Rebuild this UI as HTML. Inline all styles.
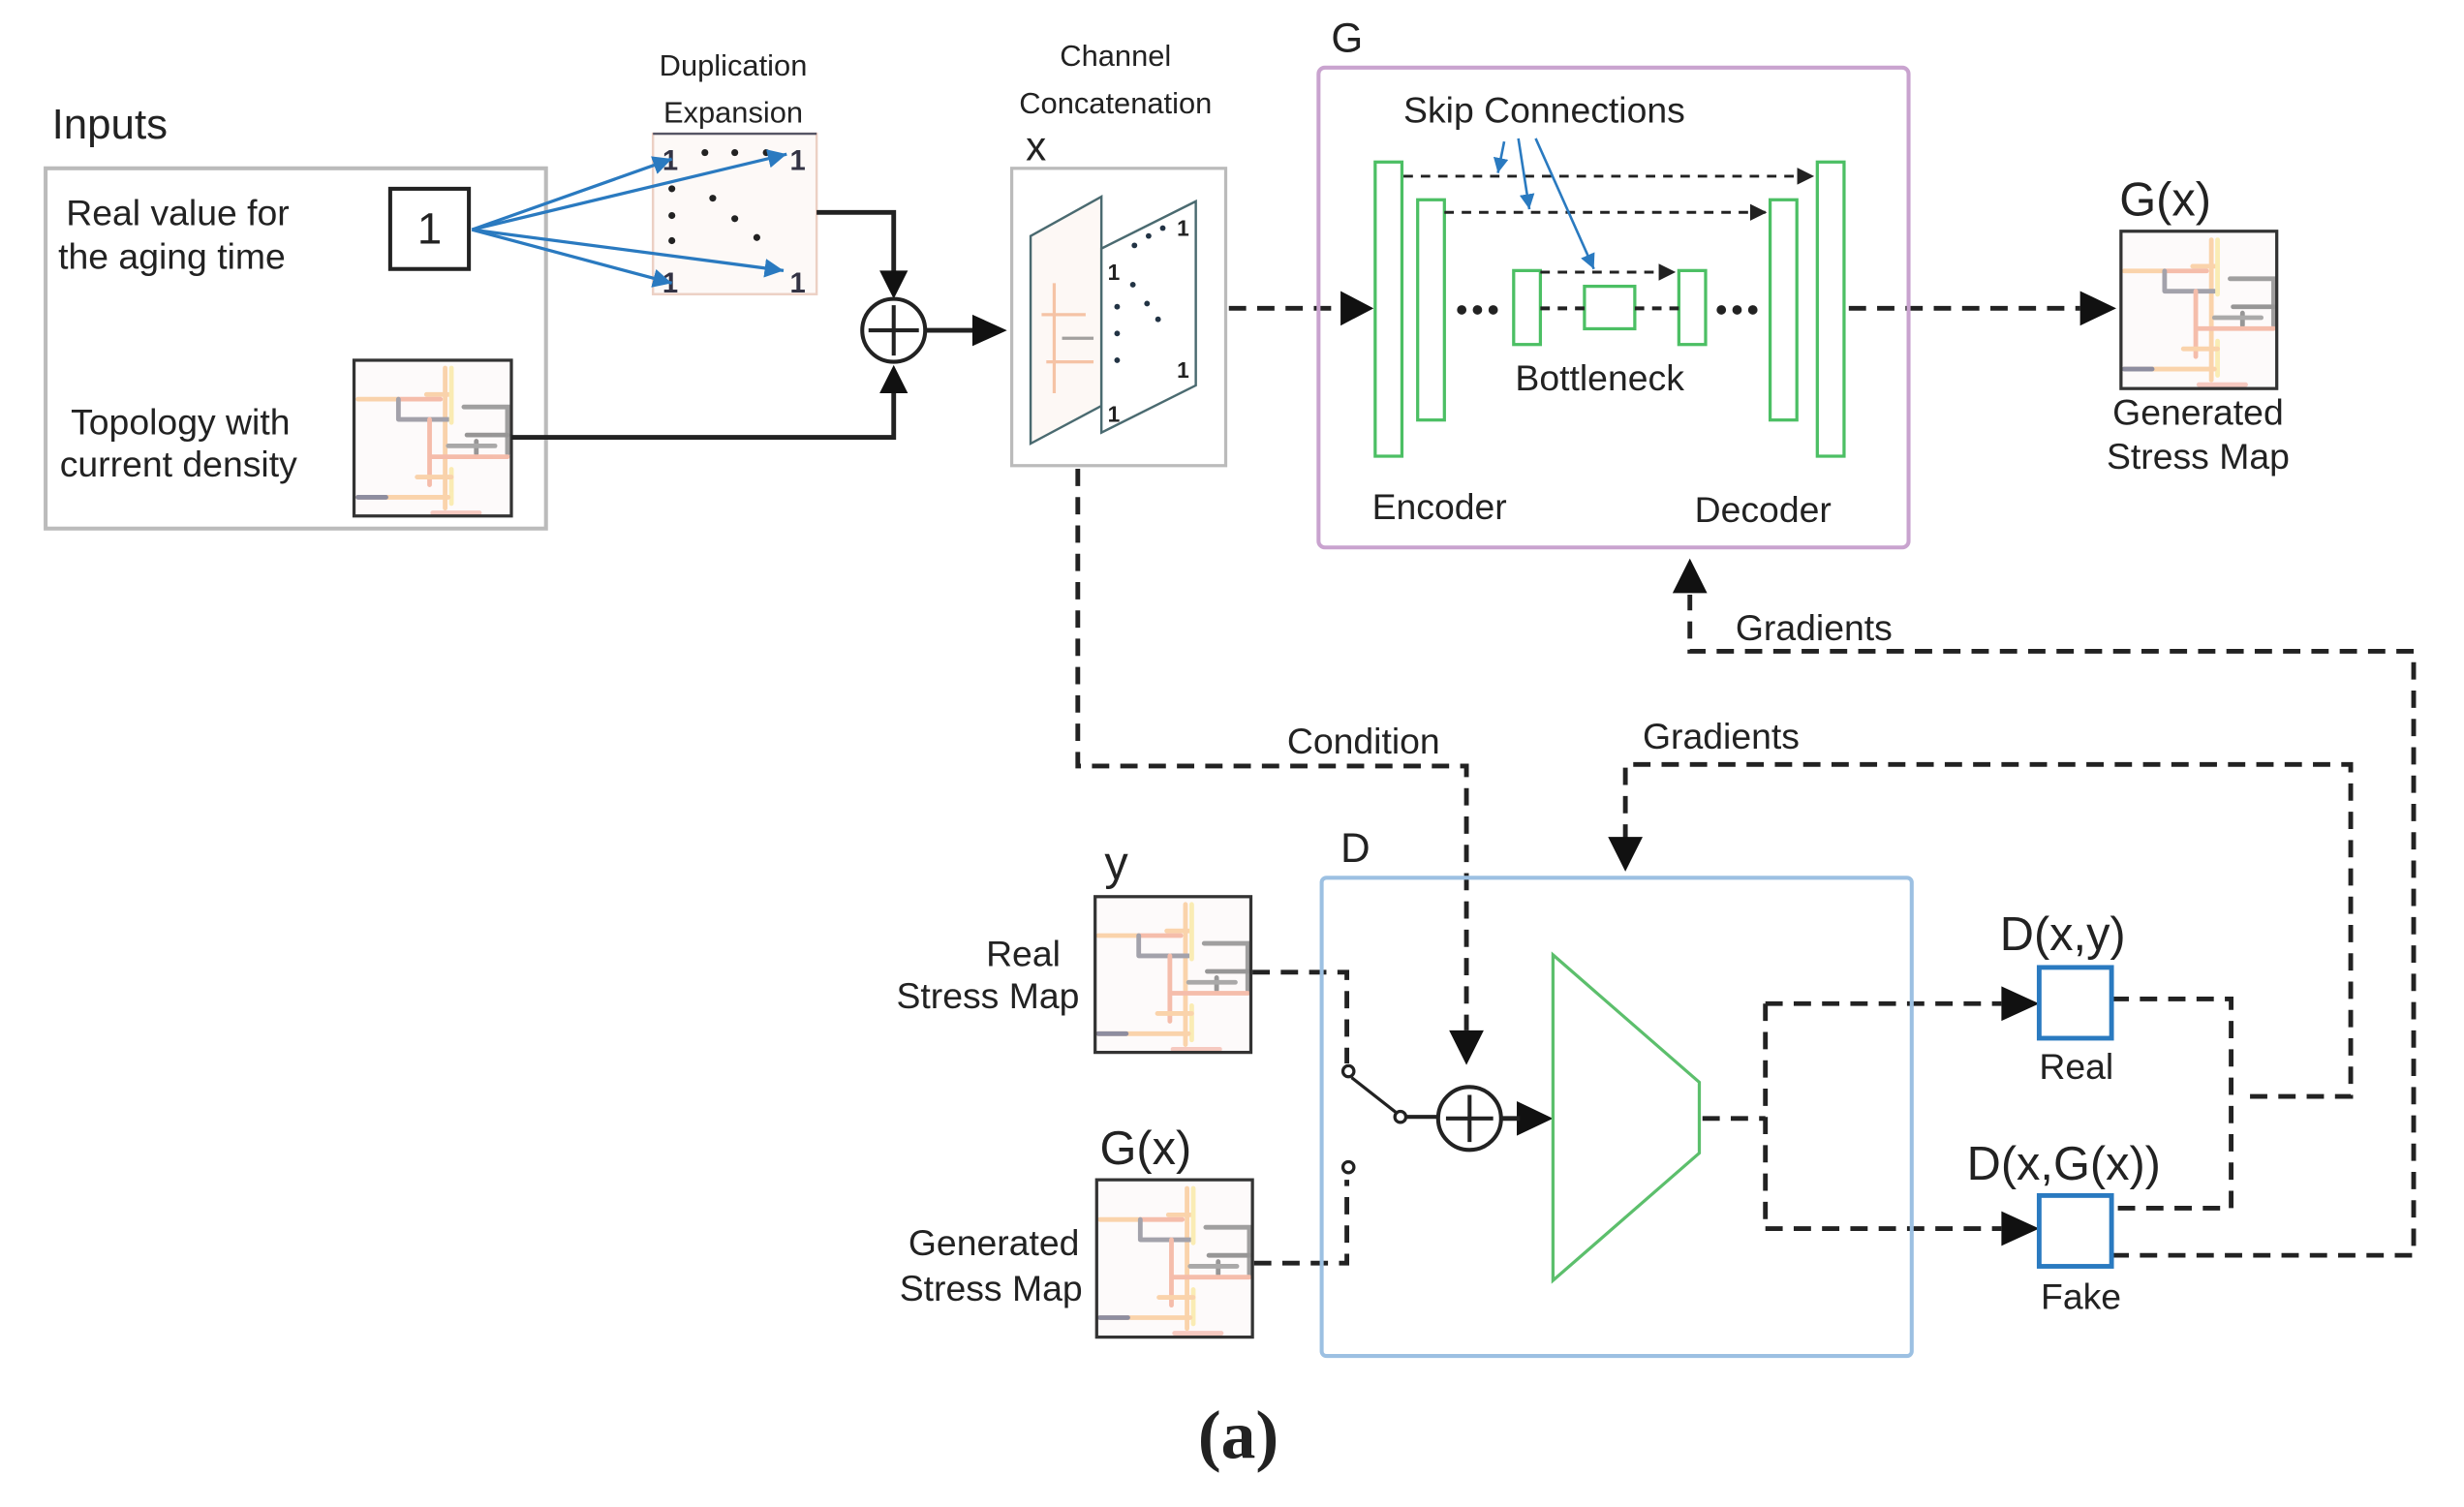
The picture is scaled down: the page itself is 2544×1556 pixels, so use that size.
<!DOCTYPE html>
<html><head><meta charset="utf-8"><style>
html,body{margin:0;padding:0;background:#fff;}
svg{display:block;}
text{font-family:"Liberation Sans",sans-serif;fill:#222;}
</style></head><body>
<svg width="2544" height="1556" viewBox="0 0 1566 958" preserveAspectRatio="none" xmlns="http://www.w3.org/2000/svg">
<defs>
<symbol id="map" viewBox="0 0 100 100">
<rect x="0" y="0" width="100" height="100" fill="#fdfafa"/>
<g fill="none" stroke-width="3" stroke-linecap="round" opacity="0.55">
<path d="M2 25 H28 M46 22 H60 M58 5 V95" stroke="#f7b26b"/>
<path d="M28 25 H55" stroke="#ef8a6a"/>
<path d="M28 25 V38 M28 38 H60" stroke="#5a5a6a"/>
<path d="M70 30 H98 V60" stroke="#555"/>
<path d="M72 48 H98 M78 52 V60" stroke="#444"/>
<path d="M48 38 V80 M48 62 H98" stroke="#ef8a6a"/>
<path d="M62 5 V40 M62 70 V92" stroke="#f8e07a"/>
<path d="M40 75 H62 M2 88 H60" stroke="#f7b26b"/>
<path d="M2 88 H20" stroke="#335"/>
<path d="M60 55 H90" stroke="#666"/>
<path d="M50 98 H80" stroke="#f1a090"/>
</g>
</symbol>
<marker id="ah" viewBox="0 0 10 10" refX="10" refY="5" markerWidth="6" markerHeight="6" orient="auto"><path d="M0 0 L10 5 L0 10z" fill="#2a7ac0"/></marker>
<marker id="sh" viewBox="0 0 10 10" refX="10" refY="5" markerWidth="6" markerHeight="6" orient="auto"><path d="M0 0 L10 5 L0 10z" fill="#222"/></marker>
</defs>

<!-- Inputs -->
<text x="33" y="88" font-size="27">Inputs</text>
<rect x="29" y="107" width="318" height="229" fill="none" stroke="#bbb" stroke-width="2.5"/>
<text x="42" y="143" font-size="23">Real value for</text>
<text x="37" y="171" font-size="23">the aging time</text>
<rect x="248" y="120" width="50" height="51" fill="none" stroke="#222" stroke-width="2.5"/>
<text x="273" y="155" font-size="28" text-anchor="middle">1</text>
<text x="45" y="276" font-size="23">Topology with</text>
<text x="38" y="303" font-size="23">current density</text>
<use href="#map" x="225" y="229" width="100" height="99"/>
<rect x="225" y="229" width="100" height="99" fill="none" stroke="#333" stroke-width="2"/>

<!-- Duplication -->
<text x="466" y="48" font-size="19" text-anchor="middle">Duplication</text>
<text x="466" y="78" font-size="19" text-anchor="middle">Expansion</text>
<rect x="415" y="85" width="104" height="102" fill="#fdf9f7" stroke="#ecd0c4" stroke-width="1.5"/>
<line x1="415" y1="85" x2="519" y2="85" stroke="#556" stroke-width="1.5"/>
<g font-size="18" font-weight="bold"><text x="421" y="108" style="fill:#334">1</text><text x="502" y="108" style="fill:#334">1</text><text x="421" y="186" style="fill:#334">1</text><text x="502" y="186" style="fill:#334">1</text></g>
<g fill="#222"><circle cx="448" cy="97" r="2.2"/><circle cx="467" cy="97" r="2.2"/><circle cx="487" cy="97" r="2.2"/><circle cx="427" cy="120" r="2.2"/><circle cx="427" cy="137" r="2.2"/><circle cx="427" cy="153" r="2.2"/><circle cx="453" cy="126" r="2.2"/><circle cx="467" cy="139" r="2.2"/><circle cx="481" cy="151" r="2.2"/></g>
<g stroke="#2a7ac0" stroke-width="2" fill="none" marker-end="url(#ah)">
<line x1="300" y1="146" x2="427" y2="101"/><line x1="300" y1="146" x2="500" y2="98"/>
<line x1="300" y1="146" x2="427" y2="180"/><line x1="300" y1="146" x2="498" y2="172"/>
</g>

<!-- solid connectors -->
<g stroke="#222" stroke-width="3" fill="none">
<path d="M519 135 H568 V176"/><path d="M325 278 H568 V244"/><path d="M589 210 H620"/>
</g>
<path d="M559 172 L577 172 L568 190z M559 250 L577 250 L568 232z M618 200 L640 210 L618 220z" fill="#111"/>
<circle cx="568" cy="210" r="20" fill="#fff" stroke="#222" stroke-width="2.5"/>
<path d="M552 210 H584 M568 194 V226" stroke="#222" stroke-width="2.5"/>

<!-- Channel concatenation -->
<text x="709" y="42" font-size="19" text-anchor="middle">Channel</text>
<text x="709" y="72" font-size="19" text-anchor="middle">Concatenation</text>
<text x="652" y="102" font-size="26">x</text>
<rect x="643" y="107" width="136" height="189" fill="#fff" stroke="#bbb" stroke-width="2"/>
<polygon points="655,150 700,125 700,258 655,282" fill="#fdf8f5" stroke="#4a6a70" stroke-width="1.5"/>
<path d="M662 200 H690 M670 180 V250 M665 230 H695" stroke="#f0a070" stroke-width="2" fill="none" opacity="0.6"/>
<path d="M675 215 H695" stroke="#666" stroke-width="2" opacity="0.6"/>
<polygon points="700,158 760,128 760,245 700,275" fill="#fff" stroke="#4a6a70" stroke-width="1.5"/>
<g font-size="14" font-weight="bold"><text x="704" y="178">1</text><text x="704" y="268">1</text><text x="748" y="150">1</text><text x="748" y="240">1</text></g>
<g fill="#234"><circle cx="721" cy="156" r="1.8"/><circle cx="730" cy="150" r="1.8"/><circle cx="739" cy="145" r="1.8"/><circle cx="720" cy="181" r="1.8"/><circle cx="729" cy="193" r="1.8"/><circle cx="736" cy="203" r="1.8"/><circle cx="710" cy="195" r="1.8"/><circle cx="710" cy="212" r="1.8"/><circle cx="710" cy="229" r="1.8"/></g>

<!-- dashed lines -->
<g stroke="#222" stroke-width="3" fill="none" stroke-dasharray="11,7">
<path d="M781 196 H852"/>
<path d="M1175 196 H1322"/>
<path d="M685 298 V487 H932 V655"/>
<path d="M1342 798 H1534 V414 H1074 V378"/>
<path d="M1430 697 H1494 V486 H1033 V533"/>
<path d="M1342 635 H1418 V768 H1342"/>
<path d="M796 618 H856 V676"/>
<path d="M797 803 H856 V750"/>
<path d="M1082 711 H1122 M1122 638 V781 M1122 638 H1272 M1122 781 H1272"/>
</g>
<path d="M852 185 L873 196 L852 207z M1322 185 L1345 196 L1322 207z M921 655 L943 655 L932 677z M1063 377 L1085 377 L1074 355z M1022 532 L1044 532 L1033 554z M1272 627 L1296 638 L1272 649z M1272 770 L1296 781 L1272 792z M964 700 L987 711 L964 722z" fill="#111"/>

<!-- G box -->
<text x="846" y="33" font-size="26">G</text>
<rect x="838" y="43" width="375" height="305" rx="4" fill="none" stroke="#c9a3cf" stroke-width="2.5"/>
<text x="892" y="78" font-size="23">Skip Connections</text>
<g fill="none" stroke="#4cbf64" stroke-width="2">
<rect x="874" y="103" width="17" height="187"/><rect x="901" y="127" width="17" height="140"/>
<rect x="962" y="172" width="17" height="47"/><rect x="1007" y="182" width="32" height="27"/>
<rect x="1067" y="172" width="17" height="47"/><rect x="1125" y="127" width="17" height="140"/>
<rect x="1155" y="103" width="17" height="187"/>
</g>
<g stroke="#222" stroke-width="1.8" fill="none" stroke-dasharray="6,5" marker-end="url(#sh)">
<path d="M892 112 H1153"/><path d="M918 135 H1123"/><path d="M979 173 H1065"/>
</g>
<path d="M979 196 H1007 M1039 196 H1067" stroke="#222" stroke-width="2.5" stroke-dasharray="6,5"/>
<g fill="#222"><circle cx="929" cy="197" r="3"/><circle cx="939" cy="197" r="3"/><circle cx="949" cy="197" r="3"/><circle cx="1094" cy="197" r="3"/><circle cx="1104" cy="197" r="3"/><circle cx="1114" cy="197" r="3"/></g>
<g stroke="#2a7ac0" stroke-width="1.6" fill="none" marker-end="url(#ah)">
<line x1="956" y1="90" x2="952" y2="110"/><line x1="965" y1="88" x2="972" y2="133"/><line x1="976" y1="88" x2="1013" y2="171"/>
</g>
<text x="963" y="248" font-size="23">Bottleneck</text>
<text x="872" y="330" font-size="23">Encoder</text>
<text x="1077" y="332" font-size="23">Decoder</text>

<!-- G(x) output -->
<text x="1347" y="137" font-size="30">G(x)</text>
<use href="#map" x="1348" y="147" width="99" height="100"/>
<rect x="1348" y="147" width="99" height="100" fill="none" stroke="#333" stroke-width="2"/>
<text x="1397" y="270" font-size="23" text-anchor="middle">Generated</text>
<text x="1397" y="298" font-size="23" text-anchor="middle">Stress Map</text>

<text x="1103" y="407" font-size="23">Gradients</text>
<text x="818" y="479" font-size="23">Condition</text>
<text x="1044" y="476" font-size="23">Gradients</text>

<!-- D box -->
<text x="852" y="548" font-size="26">D</text>
<rect x="840" y="558" width="375" height="304" rx="3" fill="none" stroke="#9cc0e2" stroke-width="2.5"/>
<text x="702" y="559" font-size="30">y</text>
<use href="#map" x="696" y="570" width="99" height="99"/>
<rect x="696" y="570" width="99" height="99" fill="none" stroke="#333" stroke-width="2"/>
<text x="686" y="614" font-size="23" text-anchor="end" dx="-12">Real</text>
<text x="686" y="641" font-size="23" text-anchor="end">Stress Map</text>
<text x="699" y="740" font-size="30">G(x)</text>
<use href="#map" x="697" y="750" width="99" height="100"/>
<rect x="697" y="750" width="99" height="100" fill="none" stroke="#333" stroke-width="2"/>
<text x="686" y="798" font-size="23" text-anchor="end">Generated</text>
<text x="688" y="827" font-size="23" text-anchor="end">Stress Map</text>

<!-- switch -->
<g stroke="#222" stroke-width="2" fill="#fff">
<line x1="859" y1="685" x2="887" y2="707"/>
<line x1="894" y1="710" x2="913" y2="710" stroke-width="2.5"/>
<circle cx="857" cy="681" r="3.5"/><circle cx="890" cy="710" r="3.5"/><circle cx="857" cy="742" r="3.5"/>
</g>
<circle cx="934" cy="711" r="20" fill="#fff" stroke="#222" stroke-width="2.5"/>
<path d="M919 711 H949 M934 696 V726" stroke="#222" stroke-width="2.5"/>
<path d="M954 711 H966" stroke="#222" stroke-width="3"/>
<polygon points="987,607 1080,688 1080,733 987,814" fill="none" stroke="#5cbf6c" stroke-width="2"/>

<!-- outputs -->
<text x="1271" y="604" font-size="30">D(x,y)</text>
<rect x="1296" y="615" width="46" height="45" fill="none" stroke="#2a7ac0" stroke-width="3"/>
<text x="1296" y="686" font-size="23">Real</text>
<text x="1250" y="750" font-size="30">D(x,G(x))</text>
<rect x="1296" y="760" width="46" height="45" fill="none" stroke="#2a7ac0" stroke-width="3"/>
<text x="1297" y="832" font-size="23">Fake</text>

<text x="787" y="927" font-size="44" font-weight="bold" text-anchor="middle" style="font-family:'Liberation Serif',serif">(a)</text>
</svg>
</body></html>
